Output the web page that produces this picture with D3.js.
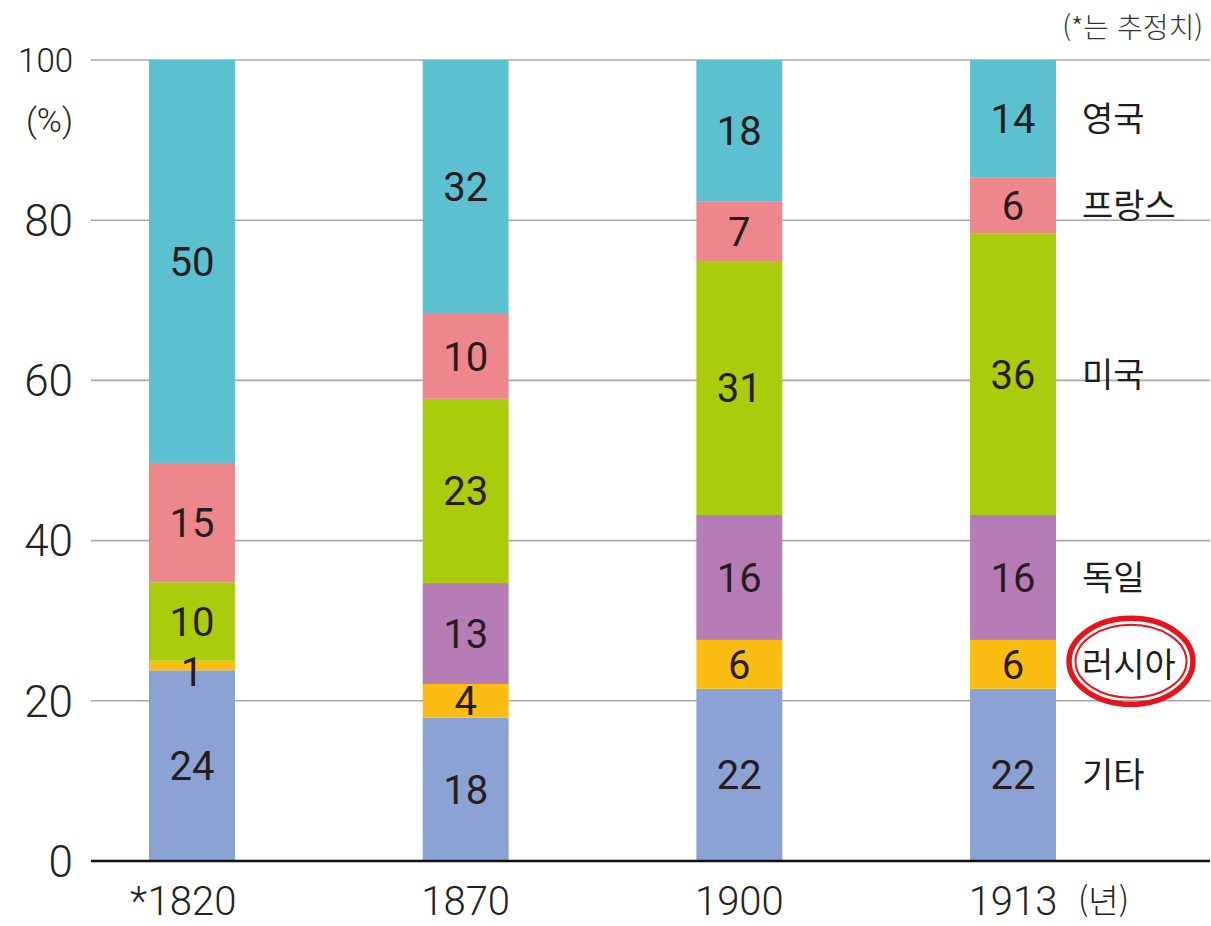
<!DOCTYPE html>
<html lang="ko">
<head>
<meta charset="utf-8">
<title>공업 생산 비중</title>
<style>
  html, body { margin: 0; padding: 0; background: #fff; }
  svg { display: block; }
  .num { font-family: Roboto, "Noto Sans", sans-serif; }
  .kr { font-family: "Noto Sans CJK KR", "Noto Sans", sans-serif; }
</style>
</head>
<body>
<div id="chart"></div>
<script src="https://cdn.jsdelivr.net/npm/d3@7"></script>
<script>
// 연도 (1820년은 추정치)
const years = ["1820", "1870", "1900", "1913"];
const estimated = [true, false, false, false];

// 아래에서 위로 쌓는 순서
const series = ["기타", "러시아", "독일", "미국", "프랑스", "영국"];

// 그림에서 읽은 비중 (%)
const other   = [23.8, 17.9, 21.5, 21.5];
const russia  = [1.2, 4.2, 6.1, 6.1];
const germany = [0, 12.6, 15.6, 15.6];
const usa     = [9.8, 23.0, 31.7, 35.1];
const france  = [14.9, 10.6, 7.4, 7.0];
const uk      = [50.3, 31.7, 17.7, 14.7];

// 막대 안에 적힌 숫자
const otherLbl   = [24, 18, 22, 22];
const russiaLbl  = [1, 4, 6, 6];
const germanyLbl = [null, 13, 16, 16];
const usaLbl     = [10, 23, 31, 36];
const franceLbl  = [15, 10, 7, 6];
const ukLbl      = [50, 32, 18, 14];

const yTicks = [0, 20, 40, 60, 80, 100];

const colors = ["#8aa3d4", "#fbbd12", "#b57cb5", "#a9cc0c", "#ee878c", "#5bc0cf"];

const values = [other, russia, germany, usa, france, uk];
const labels = [otherLbl, russiaLbl, germanyLbl, usaLbl, franceLbl, ukLbl];

const width = 1211, height = 926;
const gridLeft = 91, gridRight = 1210;

const rows = years.map((yr, i) => {
  const r = {year: yr};
  series.forEach((s, k) => r[s] = values[k][i]);
  return r;
});
const stacked = d3.stack().keys(series)(rows);

const x = d3.scaleBand()
    .domain(years)
    .range([149, 1056])
    .paddingInner(0.686)
    .paddingOuter(0);
const y = d3.scaleLinear()
    .domain([0, 100])
    .range([861, 60]);
const color = d3.scaleOrdinal(series, colors);

const svg = d3.select("#chart").append("svg")
    .attr("width", width)
    .attr("height", height)
    .attr("viewBox", [0, 0, width, height]);

// 격자선
svg.append("g")
  .selectAll("line")
  .data(yTicks.filter(d => d > 0))
  .join("line")
    .attr("x1", gridLeft)
    .attr("x2", gridRight)
    .attr("y1", d => y(d))
    .attr("y2", d => y(d))
    .attr("stroke", "#a8a8a8")
    .attr("stroke-width", 1.6);

// 눈금 글자
svg.append("g")
  .selectAll("text")
  .data(yTicks)
  .join("text")
    .attr("class", "num")
    .attr("x", 73)
    .attr("y", d => y(d))
    .attr("dy", "0.36em")
    .attr("text-anchor", "end")
    .attr("font-size", d => d === 100 ? 33 : 44)
    .attr("font-weight", 300)
    .attr("fill", "#222")
    .text(d => d);

svg.append("text")
    .attr("class", "num")
    .attr("x", 73)
    .attr("y", 120)
    .attr("dy", "0.36em")
    .attr("text-anchor", "end")
    .attr("font-size", 34)
    .attr("font-weight", 300)
    .attr("fill", "#222")
    .text("(%)");

// 막대
const layer = svg.append("g")
  .selectAll("g")
  .data(stacked)
  .join("g")
    .attr("fill", d => color(d.key));

layer.selectAll("rect")
  .data(d => d)
  .join("rect")
    .attr("x", d => x(d.data.year))
    .attr("y", d => y(d[1]))
    .attr("width", x.bandwidth())
    .attr("height", d => y(d[0]) - y(d[1]));

// 막대 안 숫자
stacked.forEach((s, k) => {
  svg.append("g")
    .selectAll("text")
    .data(s.map((d, i) => ({d, lbl: labels[k][i]})).filter(o => o.lbl != null))
    .join("text")
      .attr("class", "num")
      .attr("x", o => x(o.d.data.year) + x.bandwidth() / 2)
      .attr("y", o => (y(o.d[0]) + y(o.d[1])) / 2)
      .attr("dy", o => o.lbl === 1 ? "0.5em" : "0.36em")
      .attr("text-anchor", "middle")
      .attr("font-size", 40)
      .attr("font-weight", 400)
      .attr("fill", "#2a1c1c")
      .text(o => o.lbl);
});

// x축
svg.append("line")
    .attr("x1", gridLeft)
    .attr("x2", gridRight)
    .attr("y1", y(0))
    .attr("y2", y(0))
    .attr("stroke", "#111")
    .attr("stroke-width", 2.6);

const xl = svg.append("g")
  .selectAll("g")
  .data(years)
  .join("g")
    .attr("transform", d => `translate(${x(d) + x.bandwidth() / 2},901)`);
xl.append("text")
    .attr("class", "num")
    .attr("dy", "0.36em")
    .attr("text-anchor", "middle")
    .attr("font-size", 40)
    .attr("font-weight", 300)
    .attr("fill", "#222")
    .text(d => d);
xl.filter((d, i) => estimated[i]).append("text")
    .attr("class", "num")
    .attr("x", -45)
    .attr("dy", "0.36em")
    .attr("text-anchor", "end")
    .attr("font-size", 40)
    .attr("font-weight", 300)
    .attr("fill", "#222")
    .text("*");

svg.append("text")
    .attr("class", "kr")
    .attr("x", 1078)
    .attr("y", 901)
    .attr("dy", "0.36em")
    .attr("font-size", 33)
    .attr("font-weight", 300)
    .attr("fill", "#222")
    .text("(년)");

// 오른쪽 나라 이름 (1913년 막대 기준)
const last = years.length - 1;
svg.append("g")
  .selectAll("text")
  .data(stacked)
  .join("text")
    .attr("class", "kr")
    .attr("x", 1082)
    .attr("y", s => (y(s[last][0]) + y(s[last][1])) / 2)
    .attr("dy", "0.36em")
    .attr("font-size", 34)
    .attr("font-weight", 400)
    .attr("fill", "#1e1e1e")
    .text(s => s.key);

// 주석
svg.append("text")
    .attr("class", "kr")
    .attr("x", 1203)
    .attr("y", 28)
    .attr("dy", "0.36em")
    .attr("text-anchor", "end")
    .attr("font-size", 28)
    .attr("font-weight", 300)
    .attr("fill", "#333")
    .text("(*는 추정치)");

// 러시아 표시 타원
const ry = (y(stacked[1][last][0]) + y(stacked[1][last][1])) / 2;
svg.append("ellipse")
    .attr("cx", 1131)
    .attr("cy", ry - 3)
    .attr("rx", 62)
    .attr("ry", 43)
    .attr("fill", "none")
    .attr("stroke", "#e8141c")
    .attr("stroke-width", 5.5);
svg.append("ellipse")
    .attr("cx", 1131)
    .attr("cy", ry - 3)
    .attr("rx", 55.5)
    .attr("ry", 36.5)
    .attr("fill", "none")
    .attr("stroke", "#e8141c")
    .attr("stroke-width", 2);
</script>
</body>
</html>
